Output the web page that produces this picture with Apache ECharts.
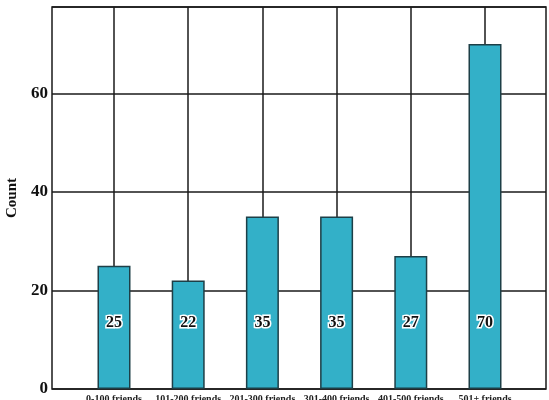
<!DOCTYPE html>
<html><head><meta charset="utf-8">
<script src="https://cdn.jsdelivr.net/npm/echarts@6/dist/echarts.min.js"></script>
<style>html,body{margin:0;padding:0;background:#fff}#c{width:549px;height:400px}</style>
</head><body><div id="c"></div>
<script>
const categories = ['0-100 friends','101-200 friends','201-300 friends','301-400 friends','401-500 friends','501+ friends'];
const counts = [25, 22, 35, 35, 27, 70];
const yTicks = [0, 20, 40, 60];
const yTitle = 'Count';

const font = '"Liberation Serif","DejaVu Serif",serif';
const lineCol = '#1a1a1a';
const chart = echarts.init(document.getElementById('c'));
const yMax = 77.5;
chart.setOption({
  animation: false,
  grid: [
    {left: 52, right: 3, top: 7, bottom: 11, show: true, borderColor: lineCol, borderWidth: 1.5, backgroundColor: 'transparent', containLabel: false, outerBoundsMode: 'none'},
    {left: 114, right: 64, top: 7, bottom: 11, containLabel: false, outerBoundsMode: 'none'}
  ],
  xAxis: [
    {type: 'value', gridIndex: 0, min: 0, max: 1, show: false},
    {type: 'category', gridIndex: 1, data: categories, boundaryGap: false,
     axisLine: {show: false}, axisTick: {show: false},
     splitLine: {show: true, lineStyle: {color: lineCol, width: 1.5}},
     axisLabel: {fontFamily: font, fontWeight: 'bold', fontSize: 10, color: '#222', margin: 5, interval: 0}}
  ],
  yAxis: [
    {type: 'value', gridIndex: 0, min: 0, max: yMax, interval: 20,
     name: yTitle, nameLocation: 'middle', nameGap: 29,
     nameTextStyle: {fontFamily: font, fontWeight: 'bold', fontSize: 15, color: '#111'},
     axisLine: {show: false}, axisTick: {show: false},
     axisLabel: {fontFamily: font, fontWeight: 'bold', fontSize: 17, color: '#111', margin: 4,
       formatter: v => yTicks.includes(v) ? String(v) : ''},
     splitLine: {show: true, lineStyle: {color: lineCol, width: 1.5}}},
    {type: 'value', gridIndex: 1, min: 0, max: yMax, show: false}
  ],
  series: [{
    type: 'bar', xAxisIndex: 1, yAxisIndex: 1, data: counts, barWidth: 33,
    itemStyle: {color: '#33b0c8', borderColor: '#1d3f47', borderWidth: 1.5},
    label: {show: true, position: 'insideBottom', distance: 58,
      fontFamily: font, fontWeight: 'bold', fontSize: 16, color: '#111',
      textBorderColor: '#fff', textBorderWidth: 3}
  }]
});
</script></body></html>
